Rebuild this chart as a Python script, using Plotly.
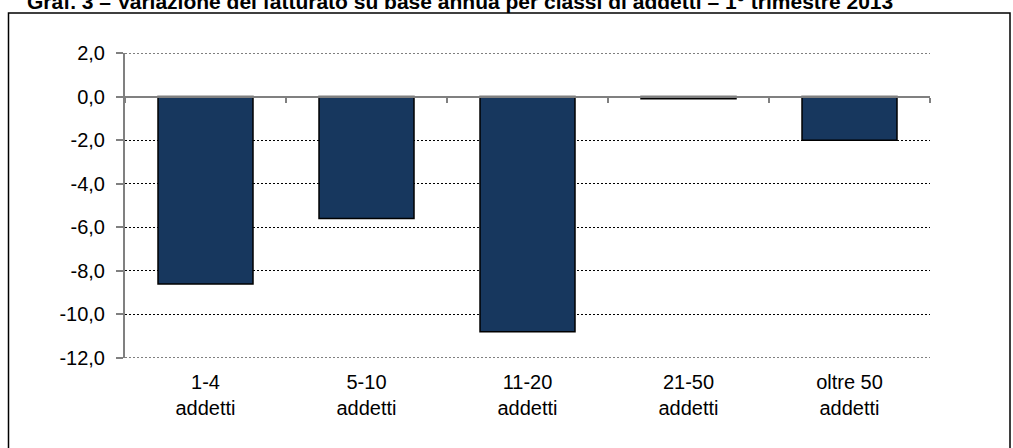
import plotly.graph_objects as go

categories = ["1-4<br>addetti", "5-10<br>addetti", "11-20<br>addetti", "21-50<br>addetti", "oltre 50<br>addetti"]
values = [-8.6, -5.6, -10.8, -0.1, -2.0]
y_ticks = [2, 0, -2, -4, -6, -8, -10, -12]
y_tick_labels = ["2,0", "0,0", "-2,0", "-4,0", "-6,0", "-8,0", "-10,0", "-12,0"]
title = "Graf. 3 – Variazione del fatturato su base annua per classi di addetti – 1° trimestre 2013"

W, H = 1013, 448
L, R, T, B = 125, 83, 53, 90
ymin, ymax = -12, 2
PW, PH = W - L - R, H - T - B

fig = go.Figure()
fig.add_trace(go.Bar(
    x=list(range(len(categories))), y=values,
    width=0.59,
    marker=dict(color="#17375E", line=dict(color="black", width=1.5)),
    hoverinfo="skip",
))
# zero-line axis with category-boundary ticks
fig.add_trace(go.Scatter(x=[-0.5, 4.5], y=[0, 0], xaxis="x2", mode="lines",
                         line=dict(color="rgba(0,0,0,0)"), hoverinfo="skip"))

font = dict(family="Liberation Sans, Arial", size=20, color="black")
grid_style = dict(color="black", width=1, dash="2px,2px")
edge_grids = [dict(type="line", xref="paper", yref="y", x0=0, x1=1, y0=v, y1=v,
                   line=grid_style, layer="below") for v in (ymin, ymax)]
fig.update_layout(
    width=W, height=H,
    margin=dict(l=L, r=R, t=T, b=B, pad=0),
    paper_bgcolor="white", plot_bgcolor="white",
    showlegend=False,
    font=font,
    xaxis=dict(
        range=[-0.5, 4.5],
        tickmode="array", tickvals=list(range(len(categories))), ticktext=categories,
        showgrid=False, zeroline=False, showline=False, ticks="",
        ticklabelstandoff=10,
        tickfont=font,
    ),
    xaxis2=dict(
        range=[-0.5, 4.5], overlaying="x", anchor="free",
        position=(0 - ymin) / (ymax - ymin), side="bottom",
        tickmode="array", tickvals=[-0.5, 0.5, 1.5, 2.5, 3.5, 4.5],
        showticklabels=False, ticks="outside", ticklen=5, tickwidth=2, tickcolor="#808080",
        showline=True, linecolor="#808080", linewidth=2,
        showgrid=False, zeroline=False,
    ),
    yaxis=dict(
        range=[ymin, ymax],
        tickmode="array", tickvals=y_ticks, ticktext=y_tick_labels,
        showgrid=True, gridcolor="black", gridwidth=1, griddash="2px,2px",
        zeroline=False,
        showline=True, linecolor="#808080", linewidth=2,
        ticks="outside", ticklen=7, tickwidth=2, tickcolor="#808080",
        ticklabelstandoff=7,
        tickfont=font,
    ),
    annotations=[dict(
        text="<b>" + title + "</b>", xref="paper", yref="paper",
        x=(25 - L) / PW, y=1 + (T - 15) / PH,
        xanchor="left", yanchor="bottom", showarrow=False,
        font=dict(family="Liberation Sans, Arial", size=21, color="black"),
    )],
    shapes=edge_grids + [dict(
        type="rect", xref="paper", yref="paper",
        x0=(8.5 - L) / PW, x1=(1010 - L) / PW,
        y0=-(H + 20 - T - PH) / PH,
        y1=1 + (T - 13) / PH,
        line=dict(color="black", width=1.5), fillcolor="rgba(0,0,0,0)", layer="below",
    )],
)
fig.write_html("out.html", config={"displayModeBar": False},
               post_script="document.body.style.margin='0';document.body.style.overflow='hidden';")
